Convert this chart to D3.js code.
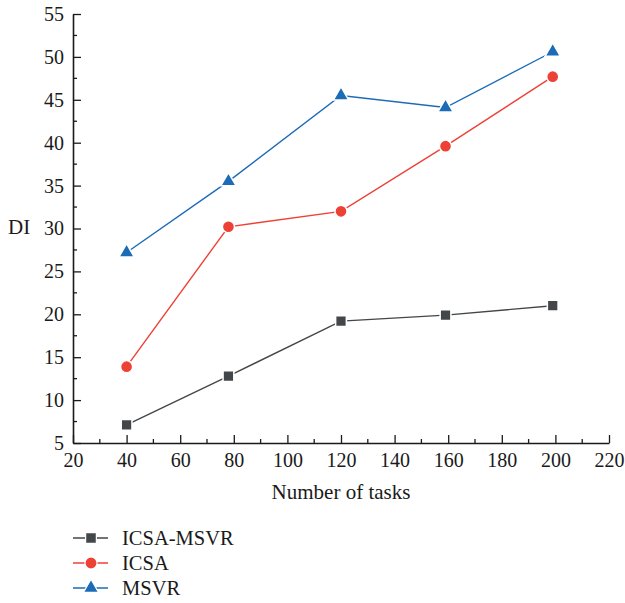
<!DOCTYPE html>
<html>
<head>
<meta charset="utf-8">
<script src="https://cdn.jsdelivr.net/npm/d3@7"></script>
<style>
  body { margin: 0; background: #fff; }
  text { font-family: "Liberation Serif", "DejaVu Serif", serif; fill: #1a1a1a; }
</style>
</head>
<body>
<svg id="chart" width="625" height="603"></svg>
<script>
// values
let tasks = [40, 78, 120, 159, 199];
let icsaMsvr = [7.1, 12.8, 19.2, 19.9, 21.0];
let icsa = [13.9, 30.2, 32.0, 39.6, 47.7];
let msvr = [27.2, 35.5, 45.5, 44.1, 50.6];

let xTicks = d3.range(20, 221, 20);
let yTicks = d3.range(5, 56, 5);

let seriesList = [
  { name: "ICSA-MSVR", values: icsaMsvr, color: "#43474a", symbol: d3.symbolSquare, size: 115 },
  { name: "ICSA", values: icsa, color: "#ee4136", symbol: d3.symbolCircle, size: 115 },
  { name: "MSVR", values: msvr, color: "#1b6bb6", symbol: d3.symbolTriangle, size: 100 }
];

let margin = { left: 73, right: 16, top: 14, bottom: 160 };
let width = 625, height = 603;

let svg = d3.select("#chart");

let xScale = d3.scaleLinear().domain([20, 220]).range([margin.left, width - margin.right]);
let yScale = d3.scaleLinear().domain([5, 55]).range([height - margin.bottom, margin.top]);

// minor ticks (inward, short)
let xMinor = d3.range(30, 220, 20);
let yMinor = d3.range(7.5, 55, 5);

let xAxis = svg.append("g")
  .attr("transform", `translate(0,${yScale(5)})`)
  .call(d3.axisBottom(xScale).tickValues(xTicks).tickSizeInner(-8).tickSizeOuter(0).tickPadding(10));

xAxis.selectAll(".minor")
  .data(xMinor)
  .enter().append("line")
  .attr("x1", d => xScale(d)).attr("x2", d => xScale(d))
  .attr("y1", 0).attr("y2", -4)
  .attr("stroke", "#1a1a1a").attr("stroke-width", 1.3);

let yAxis = svg.append("g")
  .attr("transform", `translate(${xScale(20)},0)`)
  .call(d3.axisLeft(yScale).tickValues(yTicks).tickSizeInner(-8).tickSizeOuter(0).tickPadding(9));

yAxis.selectAll(".minor")
  .data(yMinor)
  .enter().append("line")
  .attr("y1", d => yScale(d)).attr("y2", d => yScale(d))
  .attr("x1", 0).attr("x2", 4)
  .attr("stroke", "#1a1a1a").attr("stroke-width", 1.3);

svg.selectAll(".domain").attr("stroke", "#1a1a1a").attr("stroke-width", 1.6);
svg.selectAll(".tick line").attr("stroke", "#1a1a1a").attr("stroke-width", 1.3);
svg.selectAll(".tick text").attr("font-size", 20).attr("fill", "#1a1a1a")
  .style("font-family", '"Liberation Serif", "DejaVu Serif", serif');

// axis titles
svg.append("text")
  .attr("x", 341).attr("y", 499)
  .attr("text-anchor", "middle")
  .attr("font-size", 21)
  .text("Number of tasks");

svg.append("text")
  .attr("x", 8).attr("y", 234)
  .attr("font-size", 21)
  .text("DI");

// series
let line = d3.line()
  .x((d, i) => xScale(tasks[i]))
  .y(d => yScale(d));

seriesList.forEach(s => {
  svg.append("path")
    .datum(s.values)
    .attr("d", line)
    .attr("fill", "none")
    .attr("stroke", s.color)
    .attr("stroke-width", 1.4);

  svg.selectAll(null)
    .data(s.values)
    .enter().append("path")
    .attr("d", d3.symbol().type(s.symbol).size(s.size))
    .attr("transform", (d, i) => `translate(${xScale(tasks[i])},${yScale(d)})`)
    .attr("fill", s.color)
    .attr("stroke", "#fff")
    .attr("stroke-width", 1.5);
});

// legend
let legend = svg.append("g").attr("transform", "translate(73,538)");
seriesList.forEach((s, i) => {
  let row = legend.append("g").attr("transform", `translate(0,${i * 25})`);
  row.append("line")
    .attr("x1", 0).attr("x2", 35)
    .attr("stroke", s.color).attr("stroke-width", 1.4);
  row.append("path")
    .attr("d", d3.symbol().type(s.symbol).size(s.size))
    .attr("transform", "translate(18,0)")
    .attr("fill", s.color)
    .attr("stroke", "#fff")
    .attr("stroke-width", 1.2);
  row.append("text")
    .attr("x", 49).attr("y", 7)
    .attr("font-size", 20.5)
    .text(s.name);
});
</script>
</body>
</html>
